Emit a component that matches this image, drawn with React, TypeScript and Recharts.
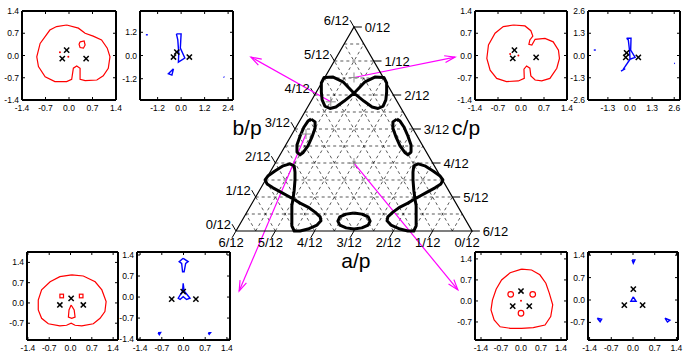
import React from 'react';
import { ScatterChart, Scatter, XAxis, YAxis, ReferenceLine } from 'recharts';

const FONT = '"Liberation Sans", Arial, Helvetica, sans-serif';
const SIN60 = Math.sqrt(3) / 2;

type Pt = [number, number];
const toXY = (pts: Pt[]) => pts.map(([x, y]) => ({ x, y }));

// ---------- ternary panel: side of the triangle = 6 twelfths ----------
const twelfths = ['0/12', '1/12', '2/12', '3/12', '4/12', '5/12', '6/12'];
const tickSteps = [0, 1, 2, 3, 4, 5, 6];
const gridLevels = [0.5, 1, 1.5, 2, 2.5, 3, 3.5, 4, 4.5, 5, 5.5];

// closed curves (cartesian, base 0..6, apex at 3, 5.196)
const topEight: Pt[] = [
  [3.0, 3.51], [2.72, 3.8], [2.47, 3.92], [2.24, 3.91], [2.17, 3.77], [2.17, 3.54],
  [2.19, 3.34], [2.26, 3.18], [2.39, 3.12], [2.54, 3.16], [2.75, 3.31], [3.0, 3.51],
  [3.25, 3.31], [3.46, 3.16], [3.61, 3.12], [3.74, 3.18], [3.81, 3.34], [3.83, 3.54],
  [3.83, 3.77], [3.76, 3.91], [3.53, 3.92], [3.28, 3.8], [3.0, 3.51],
];
const leftOval: Pt[] = [
  [1.91, 2.85], [2.01, 2.78], [2.01, 2.62], [1.93, 2.39], [1.83, 2.17], [1.7, 1.99],
  [1.63, 1.94], [1.55, 2.01], [1.55, 2.19], [1.63, 2.42], [1.73, 2.65], [1.83, 2.8], [1.91, 2.85],
];
const rightOval: Pt[] = [
  [4.09, 2.85], [3.99, 2.78], [3.99, 2.62], [4.07, 2.39], [4.17, 2.17], [4.3, 1.99],
  [4.37, 1.94], [4.45, 2.01], [4.45, 2.19], [4.37, 2.42], [4.27, 2.65], [4.17, 2.8], [4.09, 2.85],
];
const leftEight: Pt[] = [
  [1.45, 0.82], [1.48, 1.04], [1.5, 1.3], [1.5, 1.5], [1.48, 1.66], [1.37, 1.71],
  [1.2, 1.66], [0.99, 1.53], [0.81, 1.4], [0.74, 1.3], [0.79, 1.2], [0.94, 1.1],
  [1.14, 0.99], [1.32, 0.89], [1.45, 0.82],
  [1.63, 0.71], [1.83, 0.61], [2.01, 0.48], [2.14, 0.36], [2.16, 0.26], [2.06, 0.15],
  [1.83, 0.05], [1.63, 0.0], [1.48, 0.0], [1.42, 0.13], [1.42, 0.41], [1.42, 0.64], [1.45, 0.82],
];
const rightEight: Pt[] = [
  [4.55, 0.82], [4.52, 1.04], [4.5, 1.3], [4.5, 1.5], [4.52, 1.66], [4.63, 1.71],
  [4.8, 1.66], [5.01, 1.53], [5.19, 1.4], [5.26, 1.3], [5.21, 1.2], [5.06, 1.1],
  [4.86, 0.99], [4.68, 0.89], [4.55, 0.82],
  [4.37, 0.71], [4.17, 0.61], [3.99, 0.48], [3.86, 0.36], [3.84, 0.26], [3.94, 0.15],
  [4.17, 0.05], [4.37, 0.0], [4.52, 0.0], [4.58, 0.13], [4.58, 0.41], [4.58, 0.64], [4.55, 0.82],
];
const bottomOval: Pt[] = [
  [3.0, 0.46], [3.2, 0.43], [3.36, 0.36], [3.41, 0.25], [3.36, 0.15], [3.2, 0.08],
  [3.0, 0.05], [2.8, 0.08], [2.64, 0.15], [2.59, 0.25], [2.64, 0.36], [2.8, 0.43], [3.0, 0.46],
];
const ternaryCurves = [topEight, leftOval, rightOval, leftEight, rightEight, bottomOval];

// sampled states and where their insets sit
const probes: Pt[] = [[2.41, 3.29], [3.0, 3.91], [1.78, 2.47], [3.0, 1.73]];
const arrowTips: Pt[] = [[0.38, 4.43], [5.57, 4.43], [0.08, -1.53], [5.64, -1.5]];

// ---------- insets ----------
const p1Red: Pt[][] = [
  [[-0.07, 0.96], [0.28, 0.86], [0.48, 0.7], [0.72, 0.61], [0.97, 0.49], [1.14, 0.23], [1.22, -0.04],
   [1.17, -0.4], [1.02, -0.64], [0.83, -0.77], [0.48, -0.79], [0.33, -0.75], [0.33, -0.4], [0.23, -0.33],
   [0.13, -0.4], [0.08, -0.75], [-0.07, -0.82], [-0.42, -0.82], [-0.71, -0.67], [-0.91, -0.35],
   [-0.96, -0.04], [-0.86, 0.38], [-0.57, 0.8], [-0.37, 0.91], [-0.07, 0.96]],
  [[0.33, 0.43], [0.45, 0.46], [0.48, 0.33], [0.43, 0.23], [0.33, 0.25], [0.3, 0.35], [0.33, 0.43]],
];
const p1Dots: Pt[] = [[-0.27, 0.1], [-0.02, -0.04]];
const p1Bodies: Pt[] = [[-0.07, 0.17], [-0.2, -0.1], [0.51, -0.1]];

const p2Blue: Pt[][] = [
  [[-0.24, 1.12], [0, 1.12], [-0.04, 0.38], [0.19, -0.13], [-0.14, -0.34], [-0.12, 0.12], [-0.17, 0.81], [-0.24, 1.12]],
  [[-0.39, -0.69], [-0.65, -0.94], [-0.47, -1.01], [-0.39, -0.69]],
  [[-1.8, 1.07], [-1.7, 1.07]],
  [[2.17, -1.1], [2.21, -1.13]],
];
const p2Bodies: Pt[] = [[-0.22, 0.18], [-0.39, -0.08], [0.42, -0.08]];

const p3Red: Pt[][] = [
  [[-0.23, 0.96], [0.12, 0.93], [0.3, 0.78], [0.36, 0.61], [0.27, 0.49], [0.24, 0.35], [0.33, 0.33],
   [0.43, 0.51], [0.73, 0.54], [0.98, 0.43], [1.14, 0.17], [1.17, -0.09], [1.09, -0.4], [0.88, -0.72],
   [0.63, -0.8], [0.43, -0.77], [0.3, -0.64], [0.27, -0.4], [0.17, -0.33], [0.09, -0.43], [0.1, -0.72],
   [-0.08, -0.8], [-0.44, -0.82], [-0.74, -0.72], [-0.94, -0.46], [-1.04, -0.09], [-0.99, 0.33],
   [-0.79, 0.7], [-0.54, 0.91], [-0.23, 0.96]],
];
const p3Dots: Pt[] = [[-0.33, 0.05], [-0.08, 0.0]];
const p3Bodies: Pt[] = [[-0.2, 0.17], [-0.25, -0.09], [0.46, -0.06]];

const p4Blue: Pt[][] = [
  [[-0.2, 1.01], [0.06, 1.01], [0.04, 0.32], [0.3, -0.11], [0.0, -0.22], [-0.02, 0.22], [-0.1, 0.91], [-0.2, 1.01]],
  [[0.0, -0.22], [-0.4, -0.81]],
  [[-0.53, -0.91], [-0.28, -0.77]],
  [[-2.13, 0.32], [-2.01, 0.32]],
  [[2.6, -0.45], [2.64, -0.47]],
];
const p4Bodies: Pt[] = [[-0.2, 0.16], [-0.25, -0.11], [0.49, -0.11]];

const p5Red: Pt[][] = [
  [[0.04, 0.97], [0.42, 0.93], [0.81, 0.73], [1.03, 0.45], [1.17, 0.05], [1.13, -0.3], [0.97, -0.53],
   [0.75, -0.72], [0.37, -0.79], [0.15, -0.77], [0.02, -0.7], [-0.13, -0.77], [-0.35, -0.79],
   [-0.73, -0.72], [-0.95, -0.53], [-1.06, -0.24], [-1.06, 0.1], [-0.95, 0.45], [-0.67, 0.73],
   [-0.35, 0.91], [0.04, 0.97]],
  [[0.02, -0.07], [0.12, -0.24], [0.15, -0.49], [0.04, -0.53], [-0.07, -0.49], [-0.05, -0.24], [0.02, -0.07]],
];
const p5Squares: Pt[] = [[-0.29, 0.24], [0.35, 0.24]];
const p5Bodies: Pt[] = [[0.02, 0.16], [-0.35, -0.07], [0.42, -0.07]];

const p6Blue: Pt[][] = [
  [[-0.01, 1.29], [0.15, 1.18], [0.07, 1.12], [0.02, 0.84], [-0.03, 0.84], [-0.06, 1.12], [-0.14, 1.18], [-0.01, 1.29]],
  [[-0.01, 0.46], [0.02, 0.2], [0.21, -0.04], [0.1, -0.08], [-0.01, 0.01], [-0.11, -0.08], [-0.17, -0.04], [-0.03, 0.2], [-0.01, 0.46]],
  [[-0.82, -1.19], [-0.74, -1.18], [-0.78, -1.25], [-0.82, -1.19]],
  [[0.8, -1.19], [0.87, -1.19], [0.83, -1.24], [0.8, -1.19]],
];
const p6Bodies: Pt[] = [[-0.01, 0.18], [-0.38, -0.07], [0.4, -0.07]];

const p7Red: Pt[][] = [
  [[0.02, 1.06], [0.37, 1.03], [0.66, 0.87], [0.87, 0.59], [0.99, 0.26], [1.11, -0.13], [1.04, -0.52],
   [0.84, -0.8], [0.43, -0.89], [0.02, -0.91], [-0.38, -0.91], [-0.73, -0.86], [-0.94, -0.63],
   [-1.05, -0.3], [-1.0, 0.03], [-0.87, 0.39], [-0.68, 0.7], [-0.38, 0.94], [0.02, 1.06]],
];
const p7Rings: Pt[] = [[-0.36, 0.22], [0.41, 0.22], [0.0, -0.41]];
const p7Dots: Pt[] = [[0.0, 0.01]];
const p7Bodies: Pt[] = [[0.0, 0.33], [-0.29, -0.17], [0.29, -0.17]];

const p8Blue: Pt[][] = [
  [[-0.03, 1.25], [0.06, 1.25], [0.01, 1.15], [-0.03, 1.25]],
  [[-1.15, -0.57], [-1.01, -0.6], [-1.06, -0.68], [-1.15, -0.57]],
  [[1.03, -0.57], [1.19, -0.63], [1.11, -0.69], [1.03, -0.57]],
  [[0.01, 0.1], [0.1, -0.04], [-0.07, -0.04], [0.01, 0.1]],
];
const p8Bodies: Pt[] = [[0.01, 0.34], [-0.28, -0.16], [0.31, -0.16]];

const ticks14 = [-1.4, -0.7, 0, 0.7, 1.4];

// ---------- shapes ----------
const Empty = () => <g />;

const textShape = (anchor: 'start' | 'middle' | 'end', dx: number, dy: number, size: number) =>
  (p: any) => (
    <text x={p.cx + dx} y={p.cy + dy} textAnchor={anchor} fontSize={size} fontFamily={FONT} fill="#000">
      {p.payload.label}
    </text>
  );

const PlusShape = (p: any) => (
  <g stroke="#8f8f8f" strokeWidth={1}>
    <line x1={p.cx - 5} x2={p.cx + 5} y1={p.cy} y2={p.cy} />
    <line x1={p.cx} x2={p.cx} y1={p.cy - 5} y2={p.cy + 5} />
  </g>
);

const CrossShape = (p: any) => (
  <g stroke="#000" strokeWidth={1.5}>
    <line x1={p.cx - 2.6} x2={p.cx + 2.6} y1={p.cy - 2.6} y2={p.cy + 2.6} />
    <line x1={p.cx - 2.6} x2={p.cx + 2.6} y1={p.cy + 2.6} y2={p.cy - 2.6} />
  </g>
);
const DotShape = (p: any) => <circle cx={p.cx} cy={p.cy} r={1} fill="#f00" />;
const RingShape = (p: any) => <circle cx={p.cx} cy={p.cy} r={2.8} fill="none" stroke="#f00" strokeWidth={1.2} />;
const SquareShape = (p: any) => (
  <rect x={p.cx - 1.8} y={p.cy - 1.8} width={3.6} height={3.6} fill="none" stroke="#f00" strokeWidth={1.2} />
);

function ArrowShape(p: any) {
  const { x1, y1, x2, y2 } = p;
  const t = Math.atan2(y2 - y1, x2 - x1);
  const len = 11;
  const sp = 0.32;
  const a = `${x2 - len * Math.cos(t - sp)},${y2 - len * Math.sin(t - sp)}`;
  const b = `${x2 - len * Math.cos(t + sp)},${y2 - len * Math.sin(t + sp)}`;
  return (
    <g fill="none" stroke="#ff00ff" strokeWidth={1.2}>
      <line x1={x1} y1={y1} x2={x2} y2={y2} />
      <polyline points={`${a} ${x2},${y2} ${b}`} />
    </g>
  );
}

// ---------- ternary chart ----------
function Ternary() {
  const grid: { x: number; y: number }[][] = [];
  gridLevels.forEach((l) => {
    grid.push([{ x: l / 2, y: l * SIN60 }, { x: 6 - l / 2, y: l * SIN60 }]);
    grid.push([{ x: l, y: 0 }, { x: 3 + l / 2, y: (6 - l) * SIN60 }]);
    grid.push([{ x: 6 - l, y: 0 }, { x: (6 - l) / 2, y: (6 - l) * SIN60 }]);
  });

  // b on the left edge, c on the right edge, a along the base
  const bEdge = tickSteps.map((k) => ({ x: k / 2, y: k * SIN60 }));
  const cEdge = tickSteps.map((k) => ({ x: 3 + k / 2, y: (6 - k) * SIN60 }));
  const aEdge = tickSteps.map((k) => ({ x: 6 - k, y: 0 }));
  const bEnd = bEdge.map((p, k) => ({ x: p.x - 0.1, y: p.y + 0.173, label: twelfths[k] }));
  const cEnd = cEdge.map((p, k) => ({ x: p.x + 0.2, y: p.y, label: twelfths[k] }));
  const aEnd = aEdge.map((p, k) => ({ x: p.x - 0.1, y: p.y - 0.173, label: twelfths[k] }));

  const outline = toXY([[0, 0], [6, 0], [3, 6 * SIN60], [0, 0]]);

  return (
    <ScatterChart width={684} height={354} margin={{ top: 0, right: 0, bottom: 0, left: 0 }}>
      <XAxis type="number" dataKey="x" domain={[-6.0, 11.39]} hide allowDataOverflow />
      <YAxis type="number" dataKey="y" domain={[-3.133, 5.884]} hide allowDataOverflow />

      {grid.map((seg, i) => (
        <ReferenceLine key={`g${i}`} segment={seg} stroke="#111" strokeWidth={0.7} strokeDasharray="3 3" />
      ))}
      {bEdge.map((p, i) => (
        <ReferenceLine key={`bt${i}`} segment={[p, bEnd[i]]} stroke="#000" strokeWidth={1} />
      ))}
      {cEdge.map((p, i) => (
        <ReferenceLine key={`ct${i}`} segment={[p, cEnd[i]]} stroke="#000" strokeWidth={1} />
      ))}
      {aEdge.map((p, i) => (
        <ReferenceLine key={`at${i}`} segment={[p, aEnd[i]]} stroke="#000" strokeWidth={1} />
      ))}

      <Scatter data={outline} line={{ stroke: '#000', strokeWidth: 1.2 }} shape={Empty} isAnimationActive={false} />
      {ternaryCurves.map((c, i) => (
        <Scatter
          key={`tc${i}`}
          data={toXY(c)}
          line={{ stroke: '#000', strokeWidth: 3, strokeLinejoin: 'round' }}
          shape={Empty}
          isAnimationActive={false}
        />
      ))}

      {probes.map((p, i) => (
        <ReferenceLine
          key={`ar${i}`}
          segment={[{ x: p[0], y: p[1] }, { x: arrowTips[i][0], y: arrowTips[i][1] }]}
          shape={ArrowShape}
          ifOverflow="visible"
        />
      ))}
      <Scatter data={toXY(probes)} shape={PlusShape} isAnimationActive={false} />

      <Scatter data={bEnd} shape={textShape('end', -1, 4.5, 13)} isAnimationActive={false} />
      <Scatter data={cEnd} shape={textShape('start', 3, 4.5, 13)} isAnimationActive={false} />
      <Scatter data={aEnd} shape={textShape('middle', -1, 9.5, 13)} isAnimationActive={false} />

      <Scatter data={[{ x: 0.28, y: 2.44, label: 'b/p' }]} shape={textShape('middle', 0, 0, 21)} isAnimationActive={false} />
      <Scatter data={[{ x: 5.85, y: 2.44, label: 'c/p' }]} shape={textShape('middle', 0, 0, 21)} isAnimationActive={false} />
      <Scatter data={[{ x: 3.05, y: -0.94, label: 'a/p' }]} shape={textShape('middle', 0, 0, 21)} isAnimationActive={false} />
    </ScatterChart>
  );
}

// ---------- inset frames (gnuplot style: ticks inside, mirrored) ----------
const fmt = (v: number) => Number(v).toFixed(1);
const labelStyle = { fontSize: 8.5, fontFamily: FONT, fill: '#000' };

const BottomTick = (p: any) => (
  <g>
    <line x1={p.x} x2={p.x} y1={p.y} y2={p.y - 3} stroke="#000" />
    <text x={p.x} y={p.y + 11} textAnchor="middle" {...labelStyle}>{fmt(p.payload.value)}</text>
  </g>
);
const TopTick = (p: any) => <line x1={p.x} x2={p.x} y1={p.y} y2={p.y + 3} stroke="#000" />;
const LeftTick = (p: any) => (
  <g>
    <line x1={p.x} x2={p.x + 3} y1={p.y} y2={p.y} stroke="#000" />
    <text x={p.x - 3} y={p.y + 3} textAnchor="end" {...labelStyle}>{fmt(p.payload.value)}</text>
  </g>
);
const RightTick = (p: any) => <line x1={p.x} x2={p.x - 3} y1={p.y} y2={p.y} stroke="#000" />;

type InsetProps = {
  left: number; top: number; right: number; bottom: number;
  xDomain: [number, number]; yDomain: [number, number];
  xTicks: number[]; yTicks: number[];
  red?: Pt[][]; blue?: Pt[][]; bodies: Pt[];
  dots?: Pt[]; squares?: Pt[]; rings?: Pt[];
};

// space kept round each frame for the tick labels (given to the axes themselves)
const PAD = { top: 6, right: 6, bottom: 16, left: 24 };
const frameAxis = { stroke: '#000', strokeWidth: 2 };

function Inset(props: InsetProps) {
  const w = props.right - props.left;
  const h = props.bottom - props.top;
  const common = {
    type: 'number' as const, allowDataOverflow: true, tickLine: false, interval: 0 as const,
    tickSize: 0, tickMargin: 0, axisLine: frameAxis,
  };
  return (
    <div style={{ position: 'absolute', left: props.left - PAD.left, top: props.top - PAD.top }}>
      <ScatterChart width={w + PAD.left + PAD.right} height={h + PAD.top + PAD.bottom} margin={{ top: 0, right: 0, bottom: 0, left: 0 }}>
        <XAxis {...common} xAxisId="b" dataKey="x" domain={props.xDomain} ticks={props.xTicks} height={PAD.bottom} tick={BottomTick} />
        <XAxis {...common} xAxisId="t" orientation="top" dataKey="x" domain={props.xDomain} ticks={props.xTicks} height={PAD.top} tick={TopTick} />
        <YAxis {...common} yAxisId="l" dataKey="y" domain={props.yDomain} ticks={props.yTicks} width={PAD.left} tick={LeftTick} />
        <YAxis {...common} yAxisId="r" orientation="right" dataKey="y" domain={props.yDomain} ticks={props.yTicks} width={PAD.right} tick={RightTick} />
        {(props.red || []).map((c, i) => (
          <Scatter key={`r${i}`} xAxisId="b" yAxisId="l" data={toXY(c)} line={{ stroke: '#f00', strokeWidth: 1.2 }} shape={Empty} isAnimationActive={false} />
        ))}
        {(props.blue || []).map((c, i) => (
          <Scatter key={`u${i}`} xAxisId="b" yAxisId="l" data={toXY(c)} line={{ stroke: '#0000ff', strokeWidth: 1.4 }} shape={Empty} isAnimationActive={false} />
        ))}
        {props.dots && <Scatter xAxisId="b" yAxisId="l" data={toXY(props.dots)} shape={DotShape} isAnimationActive={false} />}
        {props.squares && <Scatter xAxisId="b" yAxisId="l" data={toXY(props.squares)} shape={SquareShape} isAnimationActive={false} />}
        {props.rings && <Scatter xAxisId="b" yAxisId="l" data={toXY(props.rings)} shape={RingShape} isAnimationActive={false} />}
        <Scatter xAxisId="b" yAxisId="l" data={toXY(props.bodies)} shape={CrossShape} isAnimationActive={false} />
      </ScatterChart>
    </div>
  );
}

export default function App() {
  return (
    <div style={{ position: 'absolute', left: 0, top: 0, width: 684, height: 354, overflow: 'hidden', background: '#fff', fontFamily: FONT }}>
      <div style={{ position: 'absolute', left: 0, top: 0 }}>
        <Ternary />
      </div>

      <Inset left={22} top={11} right={116} bottom={100} xDomain={[-1.4, 1.4]} yDomain={[-1.4, 1.4]}
        xTicks={ticks14} yTicks={ticks14} red={p1Red} dots={p1Dots} bodies={p1Bodies} />
      <Inset left={140} top={11} right={233} bottom={100} xDomain={[-2.1, 2.65]} yDomain={[-2.3, 2.3]}
        xTicks={[-1.2, 0, 1.2, 2.4]} yTicks={[-1.2, 0, 1.2]} blue={p2Blue} bodies={p2Bodies} />
      <Inset left={475} top={11} right={567} bottom={100} xDomain={[-1.4, 1.4]} yDomain={[-1.4, 1.4]}
        xTicks={ticks14} yTicks={ticks14} red={p3Red} dots={p3Dots} bodies={p3Bodies} />
      <Inset left={588} top={11} right={680} bottom={100} xDomain={[-2.47, 2.94]} yDomain={[-2.6, 2.6]}
        xTicks={[-1.3, 0, 1.3, 2.6]} yTicks={[-2.6, -1.3, 0, 1.3, 2.6]} blue={p4Blue} bodies={p4Bodies} />

      <Inset left={27} top={252} right={118} bottom={340} xDomain={[-1.43, 1.56]} yDomain={[-1.28, 1.76]}
        xTicks={ticks14} yTicks={[-0.7, 0, 0.7, 1.4]} red={p5Red} squares={p5Squares} bodies={p5Bodies} />
      <Inset left={137} top={252} right={230} bottom={340} xDomain={[-1.5, 1.5]} yDomain={[-1.43, 1.5]}
        xTicks={ticks14} yTicks={ticks14} blue={p6Blue} bodies={p6Bodies} />
      <Inset left={475} top={252} right={567} bottom={340} xDomain={[-1.61, 1.61]} yDomain={[-1.3, 1.63]}
        xTicks={ticks14} yTicks={[-0.7, 0, 0.7, 1.4]} red={p7Red} rings={p7Rings} dots={p7Dots} bodies={p7Bodies} />
      <Inset left={588} top={252} right={678} bottom={340} xDomain={[-1.45, 1.45]} yDomain={[-1.25, 1.5]}
        xTicks={ticks14} yTicks={[-0.7, 0, 0.7, 1.4]} blue={p8Blue} bodies={p8Bodies} />
    </div>
  );
}
